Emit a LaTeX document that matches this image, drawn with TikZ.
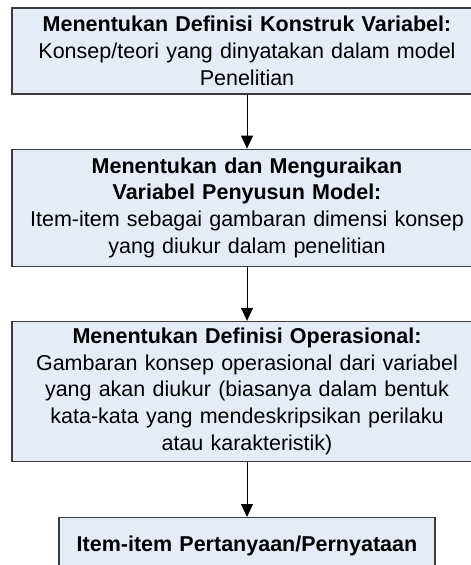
\documentclass[tikz,border=0pt]{standalone}
\usepackage{fontspec}
\setmainfont{Liberation Sans}
\usepackage{tikz}
\usetikzlibrary{positioning,arrows.meta}
\definecolor{boxfill}{RGB}{230,236,246}
\definecolor{boxline}{RGB}{60,60,60}

\begin{document}
\begin{tikzpicture}[node distance=54pt, >={Triangle[length=13pt,width=12pt]},
  main/.style = {draw=boxline, fill=boxfill, line width=1.2pt, minimum width=470pt,
    text width=450pt, align=center, inner sep=0pt,
    font=\fontsize{21.5}{26.7}\selectfont}]
\useasboundingbox (0,0) rectangle (471pt,-565pt);
\clip (0,0) rectangle (471pt,-565pt);
\node[main, minimum height=86pt] (1) at (247pt,-51pt) {\textbf{Menentukan Definisi Konstruk Variabel:}\\
Konsep/teori yang dinyatakan dalam model\\ Penelitian};
\node[main, minimum height=117pt] (2) [below=of 1] {\textbf{Menentukan dan Menguraikan}\\
\textbf{Variabel Penyusun Model:}\\ Item-item sebagai gambaran dimensi konsep\\
yang diukur dalam penelitian};
\node[main, minimum height=140pt] (3) [below=of 2] {\textbf{Menentukan Definisi Operasional:}\\
Gambaran konsep operasional dari variabel\\ yang akan diukur (biasanya dalam bentuk\\
kata-kata yang mendeskripsikan perilaku\\ atau karakteristik)};
\node[main, minimum height=56pt, minimum width=376pt, text width=360pt] (4) [below=55pt of 3] {\textbf{Item-item Pertanyaan/Pernyataan}};
\draw[->, line width=0.8pt] (1) -- (2);
\draw[->, line width=0.8pt] (2) -- (3);
\draw[->, line width=0.8pt] (3) -- (4);
\end{tikzpicture}
\end{document}
